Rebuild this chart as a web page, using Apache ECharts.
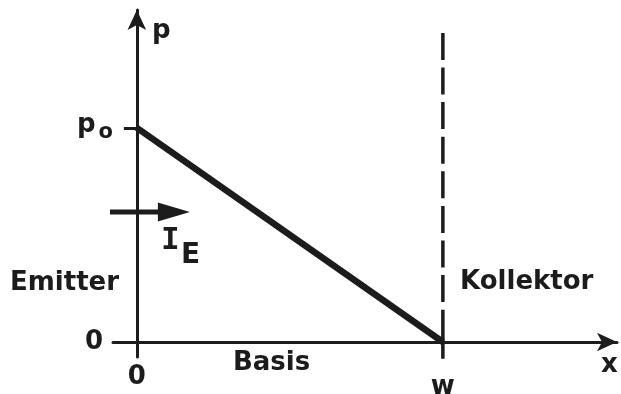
<!DOCTYPE html>
<html>
<head>
<meta charset="utf-8">
<script src="https://cdn.jsdelivr.net/npm/echarts@6/dist/echarts.min.js"></script>
<style>html,body{margin:0;padding:0;background:#fff}#c{width:621px;height:394px}</style>
</head>
<body>
<div id="c"></div>
<script>
// Hole concentration profile in the base (x in units of w, p in units of p0)
const profileX = [0, 1];
const profileP = [1, 0];
// collector boundary at x = w: dashed upper part, solid part crossing the x axis
const boundaryX = [1, 1];
const boundaryDashedP = [1.444, 0.14];
const boundarySolidP = [0.14, -0.107];
// emitter current arrow (tail, arrow-head centre)
const currentX = [-0.114, 0.121];
const currentP = [0.607, 0.607];
// tick labels
const xTickValues = [0, 1];
const xTickLabels = ['0', 'w'];
const yTickValues = [0, 1];
const yTickLabels = ['0', 'p0'];

const INK = '#1c1c1c';
const FONT = 'DejaVu Sans';
const FS = 26;
const FW = 'bold';
const F = FW + ' ' + FS + 'px ' + FONT;

const chart = echarts.init(document.getElementById('c'));
chart.setOption({
  backgroundColor: '#fff',
  animation: false,
  grid: { left: 113, right: 4, top: 10, bottom: 37, containLabel: false, outerBoundsMode: 'none' },
  xAxis: {
    type: 'value', min: -0.078, max: 1.569,
    splitLine: { show: false },
    axisLine: { onZero: true, lineStyle: { color: INK, width: 3 }, symbol: ['none', 'arrow'], symbolSize: [14, 20] },
    axisTick: { show: false },
    axisLabel: {
      customValues: xTickValues, margin: 7, color: INK, fontFamily: FONT, fontSize: FS, fontWeight: FW,
      formatter: v => {
        const t = xTickLabels[xTickValues.indexOf(v)];
        return t === 'w' ? '{w|w}' : t;
      },
      rich: { w: { fontFamily: FONT, fontSize: FS, fontWeight: FW, color: INK, padding: [10, 0, 0, 0] } }
    }
  },
  yAxis: {
    type: 'value', min: -0.07, max: 1.551,
    splitLine: { show: false },
    axisLine: { onZero: true, lineStyle: { color: INK, width: 3 }, symbol: ['none', 'arrow'], symbolSize: [14, 20] },
    axisTick: { customValues: [1], length: 13, lineStyle: { color: INK, width: 3 } },
    axisLabel: {
      customValues: yTickValues, margin: 0, color: INK, fontFamily: FONT, fontSize: FS, fontWeight: FW,
      formatter: v => {
        const t = yTickLabels[yTickValues.indexOf(v)];
        return t === 'p0' ? '{p|p}{s|o}' : '{z|' + t + '}';
      },
      rich: {
        p: { fontFamily: FONT, fontSize: FS, fontWeight: FW, color: INK, padding: [0, 0, 6, 0] },
        s: { fontFamily: FONT, fontSize: 21, fontWeight: FW, color: INK, padding: [10, 0, 0, 3] },
        z: { fontFamily: FONT, fontSize: FS, fontWeight: FW, color: INK, padding: [0, 10, 0, 0] }
      }
    }
  },
  series: [
    {
      type: 'line', data: profileX.map((x, i) => [x, profileP[i]]),
      symbol: 'none', lineStyle: { color: INK, width: 6.5 }
    },
    {
      type: 'line', data: boundaryX.map((x, i) => [x, boundaryDashedP[i]]),
      symbol: 'none', lineStyle: { color: INK, width: 3.5, type: [27, 7.6] }
    },
    {
      type: 'line', data: boundaryX.map((x, i) => [x, boundarySolidP[i]]),
      symbol: 'none', lineStyle: { color: INK, width: 3.5 }
    },
    {
      type: 'line', data: currentX.map((x, i) => [x, currentP[i]]),
      symbol: (v, p) => (p.dataIndex === 1 ? 'triangle' : 'none'),
      symbolRotate: -90, symbolSize: [19, 32], showSymbol: true,
      lineStyle: { color: INK, width: 5 }, itemStyle: { color: INK }
    }
  ],
  graphic: [
    { type: 'text', style: { x: 152, y: 31, verticalAlign: 'middle', text: 'p', font: F, fill: INK } },
    { type: 'text', style: { x: 601, y: 365, verticalAlign: 'middle', text: 'x', font: F, fill: INK } },
    { type: 'text', style: { x: 10, y: 283, verticalAlign: 'middle', text: 'Emitter', font: F, fill: INK } },
    { type: 'text', style: { x: 460, y: 282, verticalAlign: 'middle', text: 'Kollektor', font: F, fill: INK } },
    { type: 'text', style: { x: 233, y: 363, verticalAlign: 'middle', text: 'Basis', font: F, fill: INK } },
    { type: 'text', style: { x: 161, y: 241, verticalAlign: 'middle', text: 'I', font: 'bold 31px DejaVu Sans Mono', fill: INK } },
    { type: 'text', style: { x: 181, y: 256, verticalAlign: 'middle', text: 'E', font: FW + ' 28px ' + FONT, fill: INK } }
  ]
});
</script>
</body>
</html>
